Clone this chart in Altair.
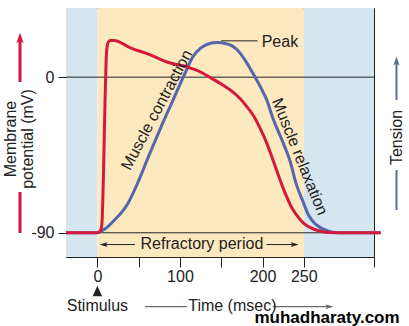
import altair as alt
import pandas as pd

# ---- data (time in msec, membrane potential in mV) ----
red_t = [-38, 0, 2, 3.9, 5.3, 11.2, 12.8, 15.5, 20, 40, 64, 86, 108, 125, 136, 150, 164, 173,
         181, 190, 197, 205, 212, 224, 236, 245, 250, 258, 268, 281, 300, 343]
red_v = [-90, -90, -89.6, -88.7, -86, 15, 19.8, 21.2, 21.2, 17, 12.9, 8.5, 6, 3, 0, -4, -8.5, -12.5,
         -17, -23, -29.5, -38, -47, -63, -76, -82, -84.5, -87, -88.8, -89.8, -90, -90]

blue_t = [-38, -2, 10, 21, 37, 49, 61, 76, 90, 104, 116, 125, 135, 145, 155, 169, 180, 188, 200,
          205, 212, 225, 233, 241, 249, 256, 263, 270, 280, 292, 343]
blue_v = [-90, -90, -87.5, -82.5, -73, -61, -47, -30, -15, 0, 12, 16.8, 19.3, 20, 19.5, 16, 9,
          2.5, -8, -13, -23, -38, -48, -62, -72, -80, -84.5, -87, -89, -90, -90]

x_ticks = [0, 50, 100, 150, 200, 250, 335]
y_ticks = [0, -90]

RED = "#d31a3d"
BLUE = "#5666ab"
YELLOW = "#fde9bf"
LBLUE = "#d6e6f0"
INK = "#222222"
FONT = "Liberation Sans"

xs = alt.Scale(domain=[-38, 335], nice=False, zero=False)
ys = alt.Scale(domain=[-104, 40], nice=False, zero=False)
xaxis = alt.Axis(values=x_ticks, tickSize=10, tickColor=INK, domain=False, grid=False,
                 labelExpr="(datum.value == 50 || datum.value == 150 || datum.value > 300) ? '' : datum.label",
                 labelFont=FONT, labelFontSize=16, labelColor=INK, labelPadding=1, title=None)
yaxis = alt.Axis(values=y_ticks, tickSize=8, tickColor=INK, domain=False, grid=False,
                 labelExpr="datum.value < 0 ? '-' + abs(datum.value) : '' + datum.value",
                 labelFont=FONT, labelFontSize=16, labelColor=INK, labelPadding=4, title=None)


def X(f):
    return alt.X(f, type="quantitative", scale=xs, axis=xaxis, title=None)


def Y(f):
    return alt.Y(f, type="quantitative", scale=ys, axis=yaxis, title=None)


bg = pd.DataFrame({"a": [-38, 0, 250], "b": [0, 250, 335], "lo": [-104] * 3, "hi": [40] * 3,
                   "c": [LBLUE, YELLOW, LBLUE]})
rects = alt.Chart(bg).mark_rect().encode(
    x=X("a"), x2="b", y=Y("lo"), y2="hi", color=alt.Color("c:N", scale=None))

rules_df = pd.DataFrame({"a": [-38, -38], "b": [335, 343], "v": [0, -90]})
hrules = alt.Chart(rules_df).mark_rule(color=INK, strokeWidth=1).encode(
    x=X("a"), x2="b", y=Y("v"))

red_df = pd.DataFrame({"t": red_t, "v": red_v})
blue_df = pd.DataFrame({"t": blue_t, "v": blue_v})
blue_line = alt.Chart(blue_df).mark_line(color=BLUE, strokeWidth=3, interpolate="monotone",
                                         clip=False).encode(x=X("t"), y=Y("v"))
red_line = alt.Chart(red_df).mark_line(color=RED, strokeWidth=3, interpolate="monotone",
                                       clip=False).encode(x=X("t"), y=Y("v"))

# Peak annotation
peak_rule = alt.Chart(pd.DataFrame({"a": [150], "b": [194], "v": [21]})).mark_rule(
    color=INK, strokeWidth=1).encode(x=X("a"), x2="b", y=Y("v"))
peak_text = alt.Chart(pd.DataFrame({"t": [199], "v": [20.4], "s": ["Peak"]})).mark_text(
    align="left", baseline="middle", font=FONT, fontSize=16, color=INK).encode(
    x=X("t"), y=Y("v"), text="s")

contr = alt.Chart(pd.DataFrame({"t": [72], "v": [-19], "s": ["Muscle contraction"]})).mark_text(
    align="center", baseline="middle", font=FONT, fontSize=16, color=INK, angle=298).encode(
    x=X("t"), y=Y("v"), text="s")
relax = alt.Chart(pd.DataFrame({"t": [245], "v": [-46], "s": ["Muscle relaxation"]})).mark_text(
    align="center", baseline="middle", font=FONT, fontSize=16, color=INK, angle=68).encode(
    x=X("t"), y=Y("v"), text="s")

# Refractory period
refr_text = alt.Chart(pd.DataFrame({"t": [126.6], "v": [-96.6], "s": ["Refractory period"]})).mark_text(
    align="center", baseline="middle", font=FONT, fontSize=16, color=INK).encode(
    x=X("t"), y=Y("v"), text="s")
refr_lines = alt.Chart(pd.DataFrame({"a": [6, 204.8], "b": [45.6, 240], "v": [-96.8, -96.8]})).mark_rule(
    color=INK, strokeWidth=1).encode(x=X("a"), x2="b", y=Y("v"))
LEFT_HEAD = "M-1,0L1,-0.6L0.55,0L1,0.6Z"
RIGHT_HEAD = "M1,0L-1,-0.6L-0.55,0L-1,0.6Z"
refr_l = alt.Chart(pd.DataFrame({"t": [7.5], "v": [-96.8]})).mark_point(
    shape=LEFT_HEAD, filled=True, size=64, color=INK, opacity=1).encode(x=X("t"), y=Y("v"))
refr_r = alt.Chart(pd.DataFrame({"t": [239], "v": [-96.8]})).mark_point(
    shape=RIGHT_HEAD, filled=True, size=64, color=INK, opacity=1).encode(x=X("t"), y=Y("v"))

# Below the plot: stimulus and time label
TRI = "M0,-1L0.9,1L-0.9,1Z"
one = pd.DataFrame({"t": [0]})
stim_tri = alt.Chart(one).mark_point(shape=TRI, filled=True, size=110, color=INK,
                                     opacity=1).encode(x=X("t"), y=alt.value(283))
stim_txt = alt.Chart(pd.DataFrame({"t": [0], "s": ["Stimulus"]})).mark_text(
    align="center", baseline="middle", font=FONT, fontSize=16, color=INK).encode(
    x=X("t"), y=alt.value(298), text="s")
time_txt = alt.Chart(pd.DataFrame({"t": [110], "s": ["Time (msec)"]})).mark_text(
    align="left", baseline="middle", font=FONT, fontSize=16, color=INK).encode(
    x=X("t"), y=alt.value(298), text="s")
time_lines = alt.Chart(pd.DataFrame({"a": [57.8, 212.4], "b": [108.5, 282]})).mark_rule(
    color="#444444", strokeWidth=1).encode(x=X("a"), x2="b", y=alt.value(298.7))
time_head = alt.Chart(pd.DataFrame({"t": [281]})).mark_point(
    shape=RIGHT_HEAD, filled=True, size=64, color="#666666", opacity=1).encode(
    x=X("t"), y=alt.value(298.7))

# Side labels
UP_HEAD = "M0,-1L0.7,1L0,0.55L-0.7,1Z"
mem1 = alt.Chart(pd.DataFrame({"s": ["Membrane"]})).mark_text(
    align="center", baseline="middle", font=FONT, fontSize=16, color=INK, angle=270).encode(
    x=alt.value(-55), y=alt.value(131), text="s")
mem2 = alt.Chart(pd.DataFrame({"s": ["potential (mV)"]})).mark_text(
    align="center", baseline="middle", font=FONT, fontSize=16, color=INK, angle=270).encode(
    x=alt.value(-38), y=alt.value(131), text="s")
red_up = alt.Chart(pd.DataFrame({"k": [0]})).mark_rule(color=RED, strokeWidth=3).encode(
    x=alt.value(-46), y=alt.value(74), y2=alt.value(32))
red_up_head = alt.Chart(pd.DataFrame({"k": [0]})).mark_point(
    shape=UP_HEAD, filled=True, size=110, color=RED, opacity=1).encode(
    x=alt.value(-46), y=alt.value(30))
red_dn = alt.Chart(pd.DataFrame({"k": [0]})).mark_rule(color=RED, strokeWidth=3).encode(
    x=alt.value(-46), y=alt.value(184), y2=alt.value(225))

tens = alt.Chart(pd.DataFrame({"s": ["Tension"]})).mark_text(
    align="center", baseline="middle", font=FONT, fontSize=16, color=INK, angle=270).encode(
    x=alt.value(330.5), y=alt.value(129.5), text="s")
SIDE_BLUE = "#5a6a9e"
blue_up = alt.Chart(pd.DataFrame({"k": [0]})).mark_rule(color=SIDE_BLUE, strokeWidth=2).encode(
    x=alt.value(330.5), y=alt.value(92), y2=alt.value(55))
blue_up_head = alt.Chart(pd.DataFrame({"k": [0]})).mark_point(
    shape=UP_HEAD, filled=True, size=80, color=SIDE_BLUE, opacity=1).encode(
    x=alt.value(330.5), y=alt.value(53))
blue_dn = alt.Chart(pd.DataFrame({"k": [0]})).mark_rule(color=SIDE_BLUE, strokeWidth=2).encode(
    x=alt.value(330.5), y=alt.value(162), y2=alt.value(202))

watermark = alt.Chart(pd.DataFrame({"s": ["muhadharaty.com"]})).mark_text(
    align="center", baseline="middle", font=FONT, fontSize=17, fontWeight="bold",
    color="#000000").encode(x=alt.value(261), y=alt.value(310), text="s")

chart = alt.layer(
    rects, hrules, blue_line, red_line, peak_rule, peak_text, contr, relax,
    refr_lines, refr_l, refr_r, refr_text,
    stim_tri, stim_txt, time_lines, time_head, time_txt,
    mem1, mem2, red_up, red_up_head, red_dn,
    tens, blue_up, blue_up_head, blue_dn, watermark
).properties(
    width=308, height=249,
    padding={"left": 66, "top": 8, "right": 35, "bottom": 69},
    autosize=alt.AutoSizeParams(type="none"),
    background="white",
).configure_view(stroke=INK, strokeWidth=1)

chart.save("out.html", embed_options={"renderer": "svg", "actions": False})
